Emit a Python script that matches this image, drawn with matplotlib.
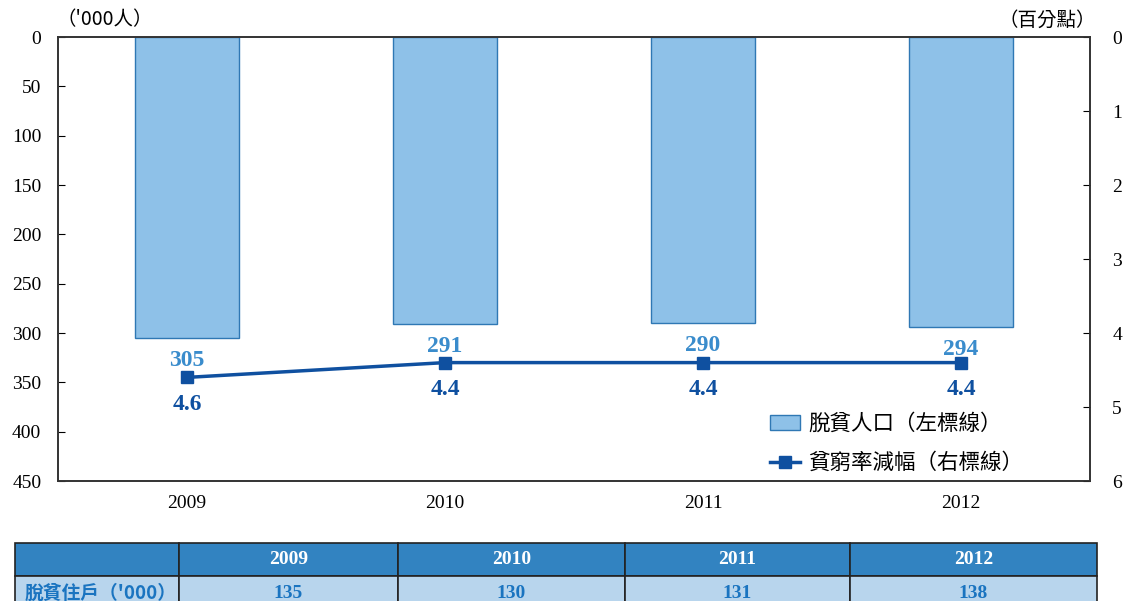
import matplotlib.pyplot as plt
import matplotlib.patches as mpatches
from matplotlib.lines import Line2D
import numpy as np

years = ["2009", "2010", "2011", "2012"]
people_out = [305, 291, 290, 294]        # '000 persons, left axis
rate_drop = [4.6, 4.4, 4.4, 4.4]         # percentage points, right axis
households_out = [135, 130, 131, 138]    # '000 households (table)

bar_fill = "#8ec1e8"
bar_edge = "#2f78b4"
line_col = "#0f50a0"
lab_col = "#3a8ccc"
hdr_col = "#3283c1"
row_col = "#b8d5ed"

serif = ["Liberation Serif", "Noto Sans CJK TC", "DejaVu Sans"]
cjk = ["Noto Sans CJK TC", "Liberation Serif", "DejaVu Sans"]
plt.rcParams["font.family"] = serif

fig = plt.figure(figsize=(11.23, 6.01), dpi=100)
ax = fig.add_axes([58 / 1123, 1 - 481 / 601, 1032 / 1123, 444 / 601])
ax2 = ax.twinx()

x = np.arange(len(years))
bars = ax.bar(x, people_out, width=0.4, color=bar_fill, edgecolor=bar_edge, linewidth=1, zorder=2)
ax.set_xlim(-0.5, len(years) - 0.5)
ax.set_ylim(450, 0)
ax.set_yticks(np.arange(0, 451, 50))
ax.set_xticks(x)
ax.set_xticklabels(years, fontsize=14)
ax.tick_params(axis="x", length=0, pad=10)
ax.tick_params(axis="y", direction="in", length=5, labelsize=14, pad=12)

for xi, v in zip(x, people_out):
    ax.annotate(str(v), (xi, v), xytext=(0, -16), textcoords="offset points",
                ha="center", va="center", fontsize=17, fontweight="bold", color=lab_col)

ax2.plot(x, rate_drop, color=line_col, lw=2.5, marker="s", ms=9, zorder=3)
ax2.set_ylim(6, 0)
ax2.set_yticks(np.arange(0, 7, 1))
ax2.tick_params(axis="y", direction="in", length=5, labelsize=14, pad=16)
for xi, v in zip(x, rate_drop):
    ax2.annotate(f"{v:.1f}", (xi, v), xytext=(0, -19.5), textcoords="offset points",
                 ha="center", va="center", fontsize=17, fontweight="bold", color=line_col)

for a in (ax, ax2):
    for s in a.spines.values():
        s.set_color("#333333")
        s.set_linewidth(1.2)

fig.text(56 / 1123, 1 - 20 / 601, "（'000人）", fontsize=14, family=cjk, va="center", ha="left")
fig.text(1096 / 1123, 1 - 20 / 601, "（百分點）", fontsize=14, family=cjk, va="center", ha="right")

handles = [mpatches.Patch(facecolor=bar_fill, edgecolor=bar_edge),
           Line2D([], [], color=line_col, lw=2.5, marker="s", ms=9)]
leg = ax2.legend(handles, ["脫貧人口（左標線）", "貧窮率減幅（右標線）"],
                 loc="lower left", bbox_to_anchor=(0.671, -0.028), frameon=False,
                 prop={"family": cjk, "size": 15.5}, handlelength=1.4, handletextpad=0.4,
                 labelspacing=0.8)

# table under the chart
tab = fig.add_axes([0, 0, 1, 1], zorder=-1)
tab.set_xlim(0, 1123)
tab.set_ylim(601, 0)
tab.axis("off")
cols = [15, 179, 398, 625, 850, 1097]
rows = [543, 576, 612]
for r, color in enumerate([hdr_col, row_col]):
    for c in range(len(cols) - 1):
        tab.add_patch(mpatches.Rectangle((cols[c], rows[r]), cols[c + 1] - cols[c], rows[r + 1] - rows[r],
                                         facecolor=color, edgecolor="#222222", lw=1.2))
for c, yr in enumerate(years):
    cx = (cols[c + 1] + cols[c + 2]) / 2
    tab.text(cx, (rows[0] + rows[1]) / 2, yr, ha="center", va="center",
             fontsize=14, fontweight="bold", color="white")
    tab.text(cx, 593, str(households_out[c]), ha="center", va="center",
             fontsize=14, fontweight="bold", color="#1a74c0")
tab.text(25, 593, "脫貧住戶（'000）", ha="left", va="center", fontsize=13.5,
         fontweight="bold", color="#1a74c0", family=cjk)

fig.savefig("out.png", dpi=100)
